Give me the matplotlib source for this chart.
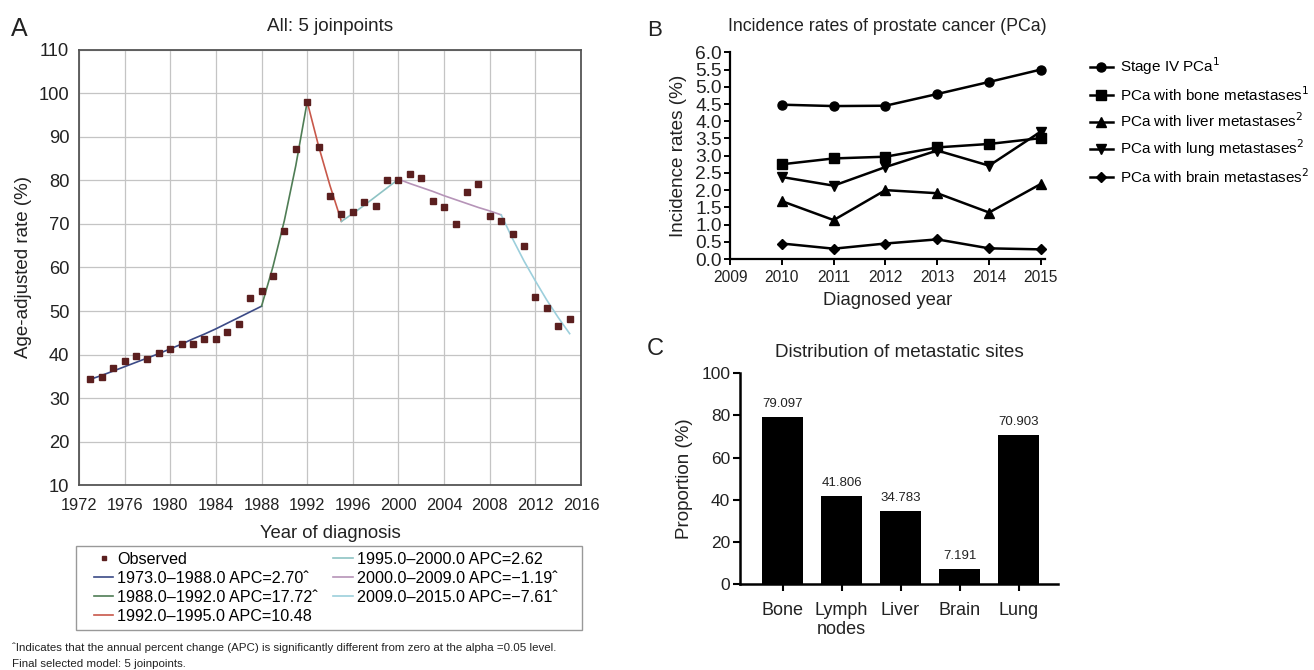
import matplotlib
matplotlib.use("Agg")
import matplotlib.pyplot as plt
from matplotlib.patches import Rectangle

plt.rcParams['font.family'] = ['Liberation Sans', 'DejaVu Sans']

# ---------------- Panel A data ----------------
obs_years = list(range(1973, 2016))
observed = [34.3, 34.9, 37.0, 38.6, 39.6, 39.0, 40.4, 41.3, 42.4, 42.3,
            43.6, 43.6, 45.2, 46.9, 53.1, 54.6, 58.1, 68.5, 87.2, 98.0,
            87.6, 76.4, 72.4, 72.7, 75.0, 74.1, 80.0, 80.1, 81.5, 80.6,
            75.3, 74.0, 70.1, 77.4, 79.1, 71.8, 70.8, 67.7, 65.0, 53.3,
            50.8, 46.5, 48.2]

seg1_years = list(range(1973, 1989))
seg1_fit = [34.3, 35.2, 36.2, 37.2, 38.2, 39.2, 40.2, 41.3, 42.4, 43.6,
            44.7, 45.9, 47.2, 48.5, 49.8, 51.1]
seg2_years = list(range(1988, 1993))
seg2_fit = [51.1, 60.2, 70.8, 83.4, 98.1]
seg3_years = list(range(1992, 1996))
seg3_fit = [98.1, 87.9, 78.8, 70.6]
seg4_years = list(range(1995, 2001))
seg4_fit = [70.6, 72.4, 74.3, 76.3, 78.3, 80.3]
seg5_years = list(range(2000, 2010))
seg5_fit = [80.3, 79.3, 78.4, 77.5, 76.5, 75.6, 74.7, 73.8, 73.0, 72.1]
seg6_years = list(range(2009, 2016))
seg6_fit = [72.1, 66.6, 61.5, 56.9, 52.5, 48.5, 44.8]

seg_labels = ["1973.0\u20131988.0 APC=2.70\u02c6",
              "1988.0\u20131992.0 APC=17.72\u02c6",
              "1992.0\u20131995.0 APC=10.48",
              "1995.0\u20132000.0 APC=2.62",
              "2000.0\u20132009.0 APC=\u22121.19\u02c6",
              "2009.0\u20132015.0 APC=\u22127.61\u02c6"]
seg_colors = ['#3b4a86', '#4f7d55', '#c8584a', '#8ec3c4', '#b694b8', '#9ccfdc']

# ---------------- Panel B data ----------------
b_years = [2010, 2011, 2012, 2013, 2014, 2015]
stage4 = [4.48, 4.44, 4.45, 4.79, 5.14, 5.50]
bone_met = [2.75, 2.92, 2.97, 3.24, 3.34, 3.51]
liver_met = [1.68, 1.13, 2.00, 1.91, 1.35, 2.18]
lung_met = [2.38, 2.13, 2.67, 3.15, 2.71, 3.70]
brain_met = [0.45, 0.30, 0.45, 0.57, 0.31, 0.28]
b_labels = ["Stage IV PCa$^{1}$",
            "PCa with bone metastases$^{1}$",
            "PCa with liver metastases$^{2}$",
            "PCa with lung metastases$^{2}$",
            "PCa with brain metastases$^{2}$"]

# ---------------- Panel C data ----------------
sites = ["Bone", "Lymph\nnodes", "Liver", "Brain", "Lung"]
proportions = [79.097, 41.806, 34.783, 7.191, 70.903]

TXT = '#222222'
fig = plt.figure(figsize=(13.14, 6.70), dpi=100)

# ================= Panel A =================
axA = fig.add_axes([0.0601, 0.2761, 0.3821, 0.6493])
axA.set_xlim(1972, 2016)
axA.set_ylim(10, 110)
axA.set_xticks(range(1972, 2017, 4))
axA.set_yticks(range(10, 111, 10))
axA.grid(True, color='#c4c4c4', linewidth=0.9, linestyle='-')
axA.set_axisbelow(True)
axA.tick_params(length=0, labelcolor=TXT)
axA.tick_params(axis='x', labelsize=11.8, pad=9)
axA.tick_params(axis='y', labelsize=13.2, pad=7)
for s in axA.spines.values():
    s.set_color('#555555')
    s.set_linewidth(1.3)

h_obs, = axA.plot(obs_years, observed, linestyle='none', marker='s',
                  markersize=4, color='#5b1f1f', label='Observed', zorder=5)
handles = [h_obs]
segs = [(seg1_years, seg1_fit), (seg2_years, seg2_fit), (seg3_years, seg3_fit),
        (seg4_years, seg4_fit), (seg5_years, seg5_fit), (seg6_years, seg6_fit)]
for (yy, vv), lab, col in zip(segs, seg_labels, seg_colors):
    h, = axA.plot(yy, vv, color=col, linewidth=1.2, label=lab, zorder=4)
    handles.append(h)

axA.set_title("All: 5 joinpoints", fontsize=13.6, pad=14, color=TXT)
axA.set_xlabel("Year of diagnosis", fontsize=13.3, labelpad=9, color=TXT)
axA.set_ylabel("Age-adjusted rate (%)", fontsize=13.5, labelpad=5, color=TXT)

fig.legend(handles=handles, labels=[h.get_label() for h in handles],
           ncol=2, frameon=False, loc='upper left',
           bbox_to_anchor=(0.063, 0.193), fontsize=11.6,
           handlelength=1.2, handletextpad=0.25, columnspacing=0.95,
           labelspacing=0.25, borderpad=0.2, markerscale=0.8)
fig.patches.append(Rectangle((76 / 1314, 1 - 630 / 670), 506 / 1314, 84 / 670,
                             transform=fig.transFigure, fill=False,
                             edgecolor='#999999', linewidth=1.0))

fig.text(11 / 1314, 1 - 29 / 670, "A", fontsize=18, va='center', ha='left',
         color=TXT)
fig.text(12 / 1314, 1 - 648 / 670,
         "\u02c6Indicates that the annual percent change (APC) is significantly "
         "different from zero at the alpha =0.05 level.",
         fontsize=8.25, va='center', ha='left', color=TXT)
fig.text(12 / 1314, 1 - 664 / 670, "Final selected model: 5 joinpoints.",
         fontsize=8.25, va='center', ha='left', color=TXT)

# ================= Panel B =================
axB = fig.add_axes([0.5556, 0.6134, 0.2397, 0.3085])
series_b = [stage4, bone_met, liver_met, lung_met, brain_met]
markers_b = ['o', 's', '^', 'v', 'D']
msizes_b = [6.5, 6.5, 7, 7, 5]
hb = []
for vals, mk, ms, lab in zip(series_b, markers_b, msizes_b, b_labels):
    h, = axB.plot(b_years, vals, color='black', linewidth=1.8, marker=mk,
                  markersize=ms, label=lab, clip_on=False)
    hb.append(h)
axB.set_xlim(2009, 2015.08)
axB.set_ylim(0, 6)
axB.set_xticks(range(2009, 2016))
axB.set_yticks([i * 0.5 for i in range(13)])
axB.set_yticklabels([f"{i * 0.5:.1f}" for i in range(13)])
axB.spines['top'].set_visible(False)
axB.spines['right'].set_visible(False)
for s in ['left', 'bottom']:
    axB.spines[s].set_linewidth(1.6)
axB.tick_params(axis='both', direction='out', length=4, width=1.4,
                color='black', labelcolor=TXT)
axB.tick_params(axis='x', labelsize=11.2, pad=4)
axB.tick_params(axis='y', labelsize=13.8, pad=2)
axB.set_title("Incidence rates of prostate cancer (PCa)", fontsize=12.8,
              pad=15, color=TXT)
axB.set_xlabel("Diagnosed year", fontsize=13.3, labelpad=5, color=TXT)
axB.set_ylabel("Incidence rates (%)", fontsize=13.6, labelpad=6, color=TXT)
fig.legend(handles=hb, labels=b_labels, loc='upper left',
           bbox_to_anchor=(1082 / 1314, 1 - 48 / 670), frameon=False,
           fontsize=11, handlelength=1.5, handletextpad=0.5,
           labelspacing=0.5, borderpad=0.0)
fig.text(647 / 1314, 1 - 30 / 670, "B", fontsize=16, va='center', ha='left',
         color=TXT)

# ================= Panel C =================
axC = fig.add_axes([0.5632, 0.1284, 0.242, 0.3144])
xc = list(range(len(sites)))
axC.bar(xc, proportions, width=0.7, color='black')
for xi, v in zip(xc, proportions):
    axC.annotate(f"{v:.3f}", (xi, v), xytext=(0, 5),
                 textcoords='offset points', ha='center', va='bottom',
                 fontsize=9.5, color=TXT)
axC.set_xlim(-0.72, 4.67)
axC.set_ylim(0, 100)
axC.set_yticks(range(0, 101, 20))
axC.set_xticks(xc)
axC.set_xticklabels(sites, linespacing=1.12)
axC.spines['top'].set_visible(False)
axC.spines['right'].set_visible(False)
for s in ['left', 'bottom']:
    axC.spines[s].set_linewidth(1.8)
axC.tick_params(axis='both', direction='out', length=5, width=1.5,
                labelcolor=TXT)
axC.tick_params(axis='x', labelsize=13, pad=8)
axC.tick_params(axis='y', labelsize=12.5, pad=2)
axC.set_title("Distribution of metastatic sites", fontsize=13.6, pad=12,
              color=TXT)
axC.set_ylabel("Proportion (%)", fontsize=13.5, labelpad=6, color=TXT)
fig.text(647 / 1314, 1 - 349 / 670, "C", fontsize=17, va='center', ha='left',
         color=TXT)

fig.savefig("out.png", dpi=100)
